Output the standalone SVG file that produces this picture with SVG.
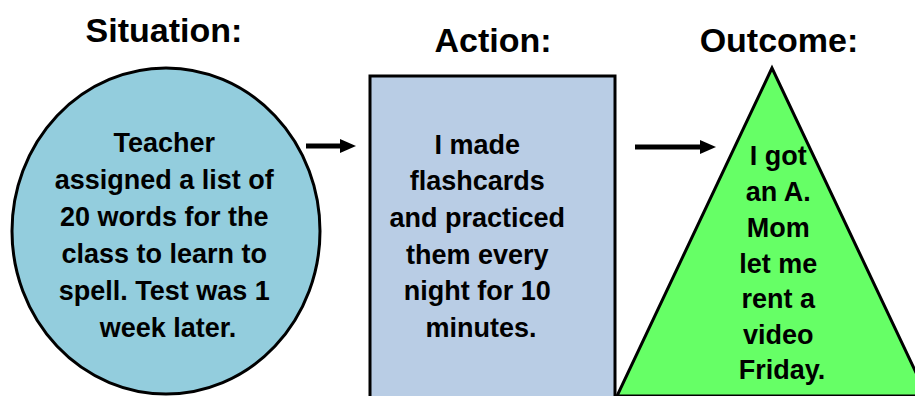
<svg xmlns="http://www.w3.org/2000/svg" width="915" height="396" viewBox="0 0 915 396">
<style>
.title{font-family:"Liberation Sans",Arial,sans-serif;font-weight:bold;font-size:34px;fill:#000;text-anchor:middle}
.body{font-family:"Liberation Sans",Arial,sans-serif;font-weight:bold;font-size:27px;fill:#000;text-anchor:middle}
.shape{stroke:#000;stroke-width:3}
</style>
<rect width="915" height="396" fill="#fff"/>
<g id="situation">
<text class="title" x="164" y="42">Situation:</text>
<ellipse class="shape" cx="166" cy="231" rx="154" ry="163" fill="#93CDDD"/>
<text class="body" x="168">
<tspan x="168" y="152">Teacher</tspan>
<tspan x="168" y="189">assigned a list of</tspan>
<tspan x="168" y="226">20 words for the</tspan>
<tspan x="168" y="263">class to learn to</tspan>
<tspan x="168" y="300">spell. Test was 1</tspan>
<tspan x="168" y="337">week later.</tspan>
</text>
</g>
<g id="action">
<text class="title" x="493" y="52">Action:</text>
<rect class="shape" x="370" y="76" width="245" height="330" fill="#B9CDE5"/>
<text class="body">
<tspan x="481" y="154">I made</tspan>
<tspan x="481" y="190">flashcards</tspan>
<tspan x="481" y="227">and practiced</tspan>
<tspan x="481" y="264">them every</tspan>
<tspan x="481" y="300">night for 10</tspan>
<tspan x="481" y="337">minutes.</tspan>
</text>
</g>
<g id="outcome">
<text class="title" x="779" y="52">Outcome:</text>
<polygon class="shape" points="772,68 617,396 927,396" fill="#66FF66"/>
<text class="body">
<tspan x="782" y="165">I got</tspan>
<tspan x="782" y="201">an A.</tspan>
<tspan x="782" y="237">Mom</tspan>
<tspan x="782" y="273">let me</tspan>
<tspan x="782" y="308">rent a</tspan>
<tspan x="782" y="344">video</tspan>
<tspan x="782" y="379">Friday.</tspan>
</text>
</g>
<g id="connectors">
<line x1="306" y1="146" x2="342" y2="146" stroke="#000" stroke-width="5"/>
<polygon points="340,139 356,146 340,153" fill="#000"/>
<line x1="635" y1="147" x2="702" y2="147" stroke="#000" stroke-width="5"/>
<polygon points="700,140 716,147 700,154" fill="#000"/>
</g>
</svg>
